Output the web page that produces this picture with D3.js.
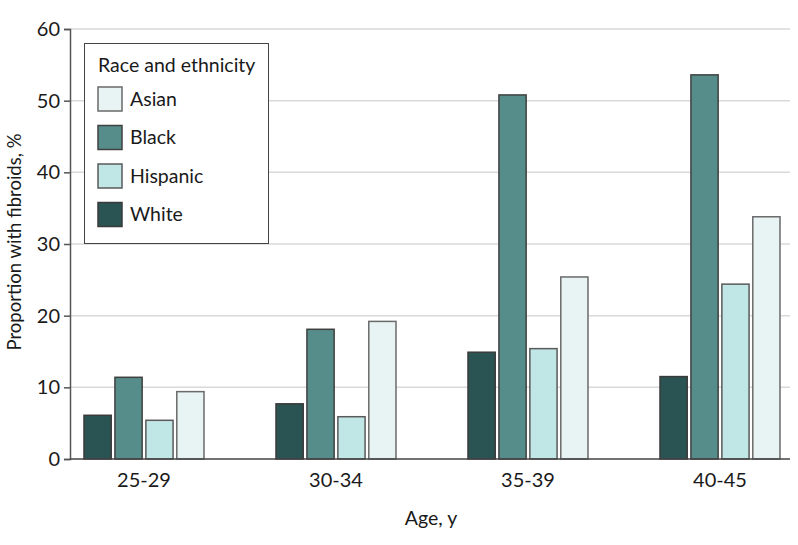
<!DOCTYPE html>
<html>
<head>
<meta charset="utf-8">
<script src="https://cdn.jsdelivr.net/npm/d3@7"></script>
<style>
  html, body { margin: 0; padding: 0; background: #fff; }
  svg text { font-family: Lato, "Noto Sans", sans-serif; fill: #1a1a1a; }
</style>
</head>
<body>
<svg id="chart" width="798" height="545"></svg>
<script>
// ---- Data ----
const ages = ["25-29", "30-34", "35-39", "40-45"];
const seriesNames = ["White", "Black", "Hispanic", "Asian"];
const legendOrder = ["Asian", "Black", "Hispanic", "White"];
const white = [6.1, 7.7, 14.9, 11.5];
const black = [11.4, 18.1, 50.8, 53.6];
const hispanic = [5.4, 5.9, 15.4, 24.4];
const asian = [9.4, 19.2, 25.4, 33.8];
const yTicks = [0, 10, 20, 30, 40, 50, 60];

const seriesValues = { White: white, Black: black, Hispanic: hispanic, Asian: asian };
const colors = { White: "#2a5453", Black: "#568c8a", Hispanic: "#c0e6e6", Asian: "#e8f3f4" };
const strokes = { White: "#3a3a3a", Black: "#404040", Hispanic: "#5a5a5a", Asian: "#6a6a6a" };

const svg = d3.select("#chart");
const mLeft = 70, mRight = 790, mTop = 29, mBottom = 459;

const y = d3.scaleLinear().domain([0, 60]).range([mBottom, mTop]);
const x0 = d3.scaleBand().domain(ages).range([48, 816]).paddingInner(0);
const groupW = 120;
const x1 = d3.scaleBand().domain(seriesNames).range([0, groupW]).paddingInner(0.12);

// gridlines
svg.append("g").selectAll("line").data(yTicks.filter(t => t > 0)).join("line")
  .attr("x1", mLeft).attr("x2", mRight)
  .attr("y1", d => y(d)).attr("y2", d => y(d))
  .attr("stroke", "#d9d9d9").attr("stroke-width", 1.5);

// y axis
const yAxis = d3.axisLeft(y).tickValues(yTicks).tickSize(6).tickPadding(4).tickFormat(d3.format("d"));
const gy = svg.append("g").attr("transform", `translate(${mLeft},0)`).call(yAxis);
gy.select(".domain").attr("stroke", "#555").attr("stroke-width", 1.5);
gy.selectAll(".tick line").attr("stroke", "#555").attr("stroke-width", 1.5);
gy.selectAll(".tick text").style("font-size", "20px").attr("fill", "#1a1a1a");

// bars
const rows = [];
ages.forEach((a, i) => seriesNames.forEach(s => rows.push({ age: a, s, v: seriesValues[s][i] })));
svg.append("g").selectAll("rect").data(rows).join("rect")
  .attr("x", d => x0(d.age) + (x0.bandwidth() - groupW) / 2 + x1(d.s))
  .attr("width", x1.bandwidth())
  .attr("y", d => y(d.v))
  .attr("height", d => y(0) - y(d.v))
  .attr("fill", d => colors[d.s])
  .attr("stroke", d => strokes[d.s])
  .attr("stroke-width", 1.5);

// x axis
const xAxis = d3.axisBottom(x0).tickSize(0).tickPadding(14);
const gx = svg.append("g").attr("transform", `translate(0,${mBottom})`).call(xAxis);
gx.select(".domain").remove();
gx.selectAll(".tick text").style("font-size", "20px").attr("fill", "#1a1a1a");
svg.append("line").attr("x1", mLeft).attr("x2", mRight).attr("y1", mBottom).attr("y2", mBottom)
  .attr("stroke", "#444").attr("stroke-width", 1.5);

// axis titles
svg.append("text").attr("x", 431).attr("y", 525).attr("text-anchor", "middle")
  .style("font-size", "19.5px").text("Age, y");
svg.append("text").attr("transform", `translate(21,242) rotate(-90)`).attr("text-anchor", "middle")
  .style("font-size", "18.5px").text("Proportion with fibroids, %");

// legend
const lg = svg.append("g");
lg.append("rect").attr("x", 84.5).attr("y", 43.5).attr("width", 184).attr("height", 200)
  .attr("fill", "#fff").attr("stroke", "#444").attr("stroke-width", 1);
lg.append("text").attr("x", 98).attr("y", 72).style("font-size", "19.5px").text("Race and ethnicity");
legendOrder.forEach((s, i) => {
  const yy = 87 + i * 38.5;
  lg.append("rect").attr("x", 98).attr("y", yy).attr("width", 24).attr("height", 24)
    .attr("fill", colors[s]).attr("stroke", strokes[s]).attr("stroke-width", 1.5);
  lg.append("text").attr("x", 130).attr("y", yy + 12).attr("dy", "0.35em")
    .style("font-size", "19.5px").text(s);
});
</script>
</body>
</html>
